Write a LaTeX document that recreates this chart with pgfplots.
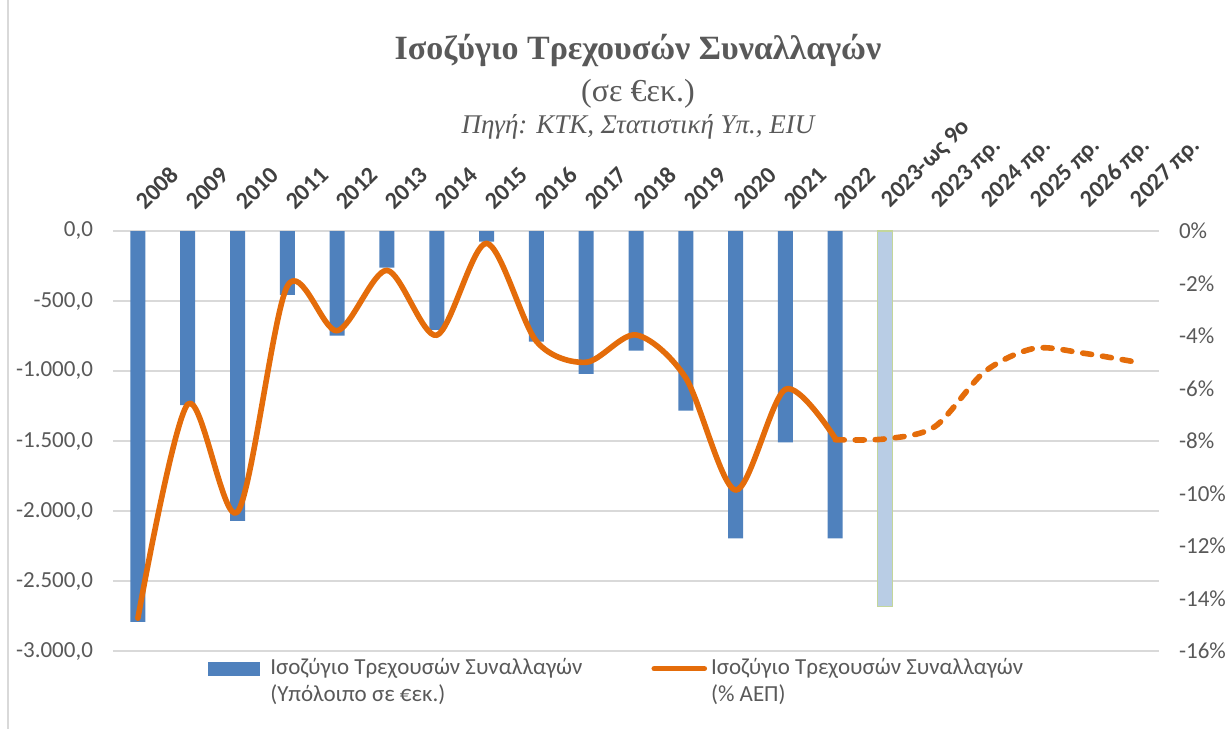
\documentclass[border=0pt]{standalone}
\usepackage{pgfplots}
\pgfplotsset{compat=1.18}
\usepackage{fontspec}
\setmainfont{Carlito}
\newfontfamily\serif{Liberation Serif}
\definecolor{barblue}{HTML}{4F81BD}
\definecolor{lightbar}{HTML}{B9CDE5}
\definecolor{lightgreen}{HTML}{C3D69B}
\definecolor{lineorange}{HTML}{E46C0A}
\definecolor{gridgray}{HTML}{D9D9D9}
\definecolor{txtgray}{HTML}{595959}
\definecolor{darkgray}{HTML}{404040}
\begin{document}
\begin{tikzpicture}
\path[use as bounding box] (0,0) rectangle (616pt,-364.5pt);
\draw[gridgray, line width=0.6pt] (4pt,0pt) -- (4pt,-364.5pt);
\node[text=txtgray, font=\serif\bfseries\fontsize{17}{20}\selectfont] at (319pt,-25pt) {Ισοζύγιο Τρεχουσών Συναλλαγών};
\node[text=txtgray, font=\serif\fontsize{16}{19}\selectfont] at (319pt,-47pt) {(σε €εκ.)};
\node[text=txtgray, font=\serif\itshape\fontsize{13.5}{16}\selectfont] at (319pt,-63.5pt) {Πηγή: ΚΤΚ, Στατιστική Υπ., EIU};
\begin{axis}[
  at={(56.5pt,-325.5pt)}, anchor=south west,
  scale only axis, width=523pt, height=210pt,
  xmin=-0.5, xmax=20.5, ymin=-3000, ymax=0,
  axis line style={draw=none},
  major tick length=0pt,
  xtick={0,...,20},
  xticklabels={2008,2009,2010,2011,2012,2013,2014,2015,2016,2017,2018,2019,2020,2021,2022,2023-ως 9ο,2023 πρ.,2024 πρ.,2025 πρ.,2026 πρ.,2027 πρ.},
  xticklabel pos=right, xtick pos=right,
  xticklabel style={xshift=4pt, yshift=5pt, rotate=45, anchor=south west, font=\bfseries\fontsize{12}{14}\selectfont, text=darkgray},
  ytick={-3000,-2500,-2000,-1500,-1000,-500,0},
  yticklabels={{-3.000,0},{-2.500,0},{-2.000,0},{-1.500,0},{-1.000,0},{-500,0},{0,0}},
  yticklabel style={font=\fontsize{11.5}{13}\selectfont, text=txtgray, xshift=-6.5pt},
  ymajorgrids, grid style={gridgray, line width=0.8pt},
  ybar, bar width=7.5pt, bar shift=0pt,
  clip=false,
]
\addplot[fill=barblue, draw=none] coordinates {
(0,-2791) (1,-1243) (2,-2071) (3,-457) (4,-748) (5,-262) (6,-707) (7,-76)
(8,-790) (9,-1021) (10,-855) (11,-1283) (12,-2195) (13,-1509) (14,-2195)};
\addplot[fill=lightbar, draw=lightgreen, line width=0.6pt] coordinates {(15,-2683)};
\end{axis}
\begin{axis}[
  at={(56.5pt,-325.5pt)}, anchor=south west,
  scale only axis, width=523pt, height=210pt,
  xmin=-0.5, xmax=20.5, ymin=-16, ymax=0,
  axis line style={draw=none}, major tick length=0pt,
  xtick=\empty,
  ytick={-16,-14,...,0},
  yticklabels={-16\%,-14\%,-12\%,-10\%,-8\%,-6\%,-4\%,-2\%,0\%},
  yticklabel pos=right, ytick pos=right,
  yticklabel style={font=\fontsize{11.5}{13}\selectfont, text=txtgray, xshift=6.5pt},
  clip=false,
  legend columns=2,
  legend cell align=left,
  legend style={at={(0.085,0.002)}, anchor=north west, draw=none, fill=none,
    font=\fontsize{11.5}{13.5}\selectfont, text=txtgray,
    cells={align=left},
    /tikz/every even column/.append style={column sep=32.5pt}},
]
\addlegendimage{legend image code/.code={\fill[barblue, draw=none] (0pt,3pt) rectangle (26pt,10pt); \path[draw=none, fill=none] (0pt,6.5pt) -- (29pt,6.5pt);}}
\addlegendentry{Ισοζύγιο Τρεχουσών Συναλλαγών\\(Υπόλοιπο σε €εκ.)}
\addplot[lineorange, line width=2.8pt, smooth, line cap=round, line join=round,
  legend image code/.code={\draw[lineorange, line width=2.8pt, line cap=round] (0pt,6.5pt) -- (25pt,6.5pt);}] coordinates {
(0,-14.75) (1,-6.6) (2,-10.7) (3,-2.1) (4,-3.8) (5,-1.5) (6,-3.97) (7,-0.47)
(8,-4.2) (9,-5.0) (10,-3.96) (11,-5.6) (12,-9.87) (13,-6.03) (14,-7.9)};
\addlegendentry{Ισοζύγιο Τρεχουσών Συναλλαγών\\(\% ΑΕΠ)}
\addplot[lineorange, line width=2.8pt, smooth, line cap=round, dash pattern=on 4.5pt off 5.5pt, forget plot] coordinates {
(14,-7.95) (15,-7.92) (16,-7.45) (17,-5.36) (18,-4.47) (19,-4.66) (20,-4.98)};
\end{axis}
\end{tikzpicture}
\end{document}
